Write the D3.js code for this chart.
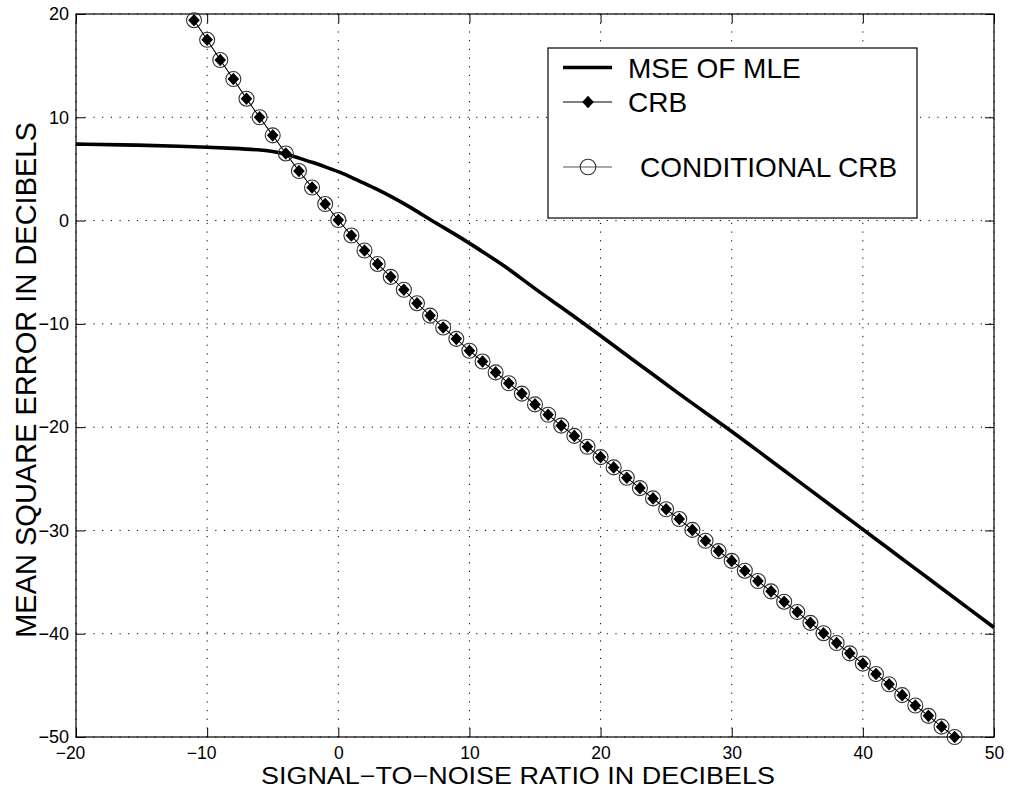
<!DOCTYPE html>
<html>
<head>
<meta charset="utf-8">
<script src="https://cdn.jsdelivr.net/npm/d3@7"></script>
<style>
  body { margin: 0; background: #fff; }
  text { font-family: "Liberation Sans", Arial, Helvetica, sans-serif; fill: #000; }
</style>
</head>
<body>
<svg id="chart"></svg>
<script>
// SNR (dB) for the CRB markers and the CRB values (dB)
const crbSnr = [-11, -10, -9, -8, -7, -6, -5, -4, -3, -2, -1, 0, 1, 2, 3, 4, 5, 6, 7, 8, 9,
  10, 11, 12, 13, 14, 15, 16, 17, 18, 19, 20, 21, 22, 23, 24, 25, 26, 27, 28, 29,
  30, 31, 32, 33, 34, 35, 36, 37, 38, 39, 40, 41, 42, 43, 44, 45, 46, 47];
const crbValues = [19.4, 17.5, 15.55, 13.7, 11.8, 10.0, 8.25, 6.5, 4.8, 3.2, 1.6, 0.05, -1.45, -2.9, -4.2,
  -5.45, -6.7, -8.0, -9.2, -10.35, -11.45, -12.6, -13.65, -14.7, -15.75, -16.75, -17.8, -18.8,
  -19.85, -20.85, -21.9, -22.9, -23.9, -24.9, -25.9, -26.9, -27.95, -28.9, -29.95, -31.0, -32.0,
  -32.95, -33.9, -34.9, -35.9, -36.9, -37.9, -38.95, -39.95, -40.9, -41.9, -42.9, -43.9, -44.9,
  -45.95, -46.95, -47.95, -49.0, -50.0];
// conditional CRB falls on top of the CRB
const condCrbValues = crbValues.slice();

// MSE of the MLE (dB)
const mseSnr = [-20, -15, -12, -10, -8, -6, -5, -4, -3, -2, -1, 0, 1, 2, 3, 4, 5, 6, 7, 8, 9,
  10, 11, 12, 13, 14, 15, 16, 17, 18, 20, 22, 24, 26, 28, 30, 32, 34, 36, 38, 40, 42, 44, 46, 48, 50];
const mseValues = [7.4, 7.3, 7.2, 7.1, 7.0, 6.85, 6.7, 6.45, 6.05, 5.65, 5.2, 4.75, 4.2, 3.6, 3.0,
  2.35, 1.65, 0.9, 0.1, -0.65, -1.4, -2.2, -3.0, -3.85, -4.7, -5.65, -6.6, -7.5, -8.4, -9.3,
  -11.15, -13.05, -14.9, -16.8, -18.6, -20.4, -22.3, -24.2, -26.1, -28.0, -29.9, -31.8, -33.7,
  -35.6, -37.5, -39.4];

const xTicks = [-20, -10, 0, 10, 20, 30, 40, 50];
const yTicks = [-50, -40, -30, -20, -10, 0, 10, 20];

const legendLabels = ["MSE OF MLE", "CRB", "CONDITIONAL CRB"];

const dimensions = {
    width: 1010,
    height: 789,
    margin: { top: 14, right: 16, bottom: 52, left: 76 }
};
const innerW = dimensions.width - dimensions.margin.left - dimensions.margin.right;
const innerH = dimensions.height - dimensions.margin.top - dimensions.margin.bottom;

const svgRoot = d3.select("#chart")
    .attr("width", dimensions.width)
    .attr("height", dimensions.height);

svgRoot.append("rect")
    .attr("width", dimensions.width)
    .attr("height", dimensions.height)
    .attr("fill", "#fff");

const svg = svgRoot.append("g")
    .attr("transform", `translate(${dimensions.margin.left}, ${dimensions.margin.top})`);

const xScale = d3.scaleLinear().domain([-20, 50]).range([0, innerW]);
const yScale = d3.scaleLinear().domain([-50, 20]).range([innerH, 0]);

// dotted grid
svg.append("g")
    .selectAll("line")
    .data(xTicks)
    .join("line")
    .attr("x1", d => xScale(d)).attr("x2", d => xScale(d))
    .attr("y1", 0).attr("y2", innerH)
    .attr("stroke", "#000")
    .attr("stroke-width", 1)
    .attr("stroke-dasharray", "1.2,7.5");

svg.append("g")
    .selectAll("line")
    .data(yTicks)
    .join("line")
    .attr("y1", d => yScale(d)).attr("y2", d => yScale(d))
    .attr("x1", 0).attr("x2", innerW)
    .attr("stroke", "#000")
    .attr("stroke-width", 1)
    .attr("stroke-dasharray", "1.2,7.5");

// axes with inward ticks on all four sides
const xAxis = svg.append("g")
    .attr("transform", `translate(0, ${innerH})`)
    .call(d3.axisBottom(xScale).tickValues(xTicks).tickSizeInner(-9).tickSizeOuter(0).tickPadding(10));
xAxis.selectAll(".tick text")
    .style("font-size", "17.5px")
    .attr("dx", d => d < 0 ? -6 : 0);

const yAxis = svg.append("g")
    .call(d3.axisLeft(yScale).tickValues(yTicks).tickSizeInner(-9).tickSizeOuter(0).tickPadding(7));
yAxis.selectAll(".tick text").style("font-size", "18px");

const topAxis = svg.append("g")
    .call(d3.axisTop(xScale).tickValues(xTicks).tickSizeInner(-9).tickSizeOuter(0));
topAxis.selectAll("text").remove();
const rightAxis = svg.append("g")
    .attr("transform", `translate(${innerW}, 0)`)
    .call(d3.axisRight(yScale).tickValues(yTicks).tickSizeInner(-9).tickSizeOuter(0));
rightAxis.selectAll("text").remove();

svg.selectAll(".domain").remove();
svg.selectAll(".tick line").attr("stroke", "#000");

svg.append("rect")
    .attr("width", innerW)
    .attr("height", innerH)
    .attr("fill", "none")
    .attr("stroke", "#000")
    .attr("stroke-width", 1.2);

const mseData = mseSnr.map((s, i) => ({ x: s, y: mseValues[i] }));
const crbData = crbSnr.map((s, i) => ({ x: s, y: crbValues[i] }));
const condData = crbSnr.map((s, i) => ({ x: s, y: condCrbValues[i] }));

const line = d3.line()
    .x(d => xScale(d.x))
    .y(d => yScale(d.y));

// MSE curve
svg.append("path")
    .datum(mseData)
    .attr("fill", "none")
    .attr("stroke", "#000")
    .attr("stroke-width", 3.6)
    .attr("d", line.curve(d3.curveBasis));

// conditional CRB: thin line + open circles
svg.append("path")
    .datum(condData)
    .attr("fill", "none")
    .attr("stroke", "#444")
    .attr("stroke-width", 1)
    .attr("d", line.curve(d3.curveLinear));

svg.append("g")
    .selectAll("circle")
    .data(condData)
    .join("circle")
    .attr("cx", d => xScale(d.x))
    .attr("cy", d => yScale(d.y))
    .attr("r", 7.5)
    .attr("fill", "none")
    .attr("stroke", "#333")
    .attr("stroke-width", 1.1);

// CRB: thin black line + filled diamonds
svg.append("path")
    .datum(crbData)
    .attr("fill", "none")
    .attr("stroke", "#000")
    .attr("stroke-width", 1)
    .attr("d", line.curve(d3.curveLinear));

const diamond = "M0,-6.3L5.8,0L0,6.3L-5.8,0Z";
svg.append("g")
    .selectAll("path")
    .data(crbData)
    .join("path")
    .attr("transform", d => `translate(${xScale(d.x)}, ${yScale(d.y)})`)
    .attr("d", diamond)
    .attr("fill", "#000");

// legend
const legend = svgRoot.append("g").attr("transform", "translate(548, 48)");
legend.append("rect")
    .attr("width", 369)
    .attr("height", 170)
    .attr("fill", "#fff")
    .attr("stroke", "#000")
    .attr("stroke-width", 1.2);

const rowY = [19.5, 54, 119];
const textX = [80, 80, 92];

legend.append("line")
    .attr("x1", 15).attr("x2", 64).attr("y1", rowY[0]).attr("y2", rowY[0])
    .attr("stroke", "#000").attr("stroke-width", 3.6);

legend.append("line")
    .attr("x1", 15).attr("x2", 64).attr("y1", rowY[1]).attr("y2", rowY[1])
    .attr("stroke", "#000").attr("stroke-width", 1);
legend.append("path")
    .attr("transform", `translate(40, ${rowY[1]})`)
    .attr("d", diamond)
    .attr("fill", "#000");

legend.append("line")
    .attr("x1", 15).attr("x2", 64).attr("y1", rowY[2]).attr("y2", rowY[2])
    .attr("stroke", "#555").attr("stroke-width", 1);
legend.append("circle")
    .attr("cx", 40).attr("cy", rowY[2]).attr("r", 7.8)
    .attr("fill", "none").attr("stroke", "#333").attr("stroke-width", 1.1);

legend.selectAll(".legend-text")
    .data(legendLabels)
    .join("text")
    .attr("class", "legend-text")
    .attr("x", (d, i) => textX[i])
    .attr("y", (d, i) => rowY[i])
    .attr("dy", "0.36em")
    .style("font-size", "28px")
    .text(d => d);

// axis titles
svgRoot.append("text")
    .attr("x", 518)
    .attr("y", 783.5)
    .attr("text-anchor", "middle")
    .attr("textLength", 514)
    .attr("lengthAdjust", "spacingAndGlyphs")
    .style("font-size", "23px")
    .text("SIGNAL\u2212TO\u2212NOISE RATIO IN DECIBELS");

svgRoot.append("text")
    .attr("transform", "translate(36, 380) rotate(-90)")
    .attr("text-anchor", "middle")
    .style("font-size", "29px")
    .text("MEAN SQUARE ERROR IN DECIBELS");
</script>
</body>
</html>
